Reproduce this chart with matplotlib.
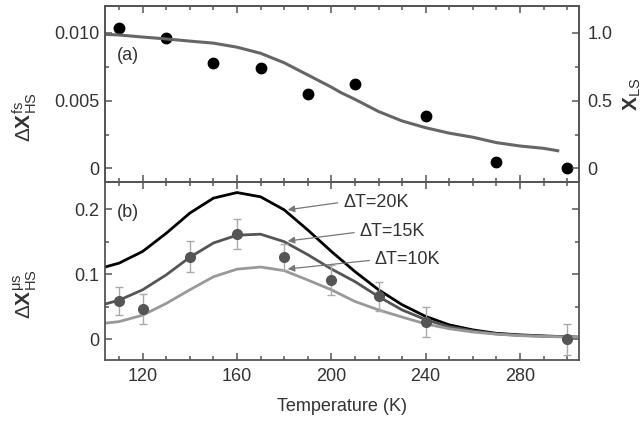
import numpy as np
import matplotlib
matplotlib.use("Agg")
from matplotlib import pyplot as plt
from matplotlib.ticker import MultipleLocator, FixedFormatter, FixedLocator

plt.rcParams['font.family'] = ['Liberation Sans', 'DejaVu Sans']
plt.rcParams['mathtext.fontset'] = 'custom'
plt.rcParams['mathtext.rm'] = 'Liberation Sans'
plt.rcParams['mathtext.bf'] = 'Liberation Sans:bold'
plt.rcParams['mathtext.it'] = 'Liberation Sans:italic'

# Panel (a): fs data points and X_LS curve
T_fs = [110, 130, 150, 170, 190, 210, 240, 270, 300]
dx_fs = [0.0104, 0.0096, 0.0078, 0.0074, 0.0055, 0.0062, 0.0039, 0.0005, 0.0]

T_ls = [104, 110, 120, 130, 140, 150, 160, 170, 180, 190, 200, 204,
        210, 220, 230, 240, 250, 260, 270, 280, 290, 296]
x_ls = [0.99, 0.985, 0.97, 0.956, 0.94, 0.925, 0.895, 0.85, 0.78, 0.69, 0.60, 0.56,
        0.51, 0.42, 0.35, 0.30, 0.26, 0.23, 0.19, 0.165, 0.148, 0.13]

# Panel (b): mus data points with error bars
T_us = [110, 120, 140, 160, 180, 200, 220, 240, 300]
dx_us = [0.059, 0.047, 0.127, 0.162, 0.127, 0.091, 0.066, 0.027, 0.0]
err_us = [0.022, 0.023, 0.024, 0.023, 0.020, 0.023, 0.022, 0.023, 0.024]

# model curves for dT = 20, 15, 10 K
T_m = [104, 110, 120, 130, 140, 150, 160, 170, 180, 190, 200,
       210, 220, 230, 240, 250, 260, 270, 280, 290, 305]
dT20 = [0.111, 0.117, 0.135, 0.163, 0.194, 0.217, 0.2256, 0.219, 0.199, 0.168, 0.135,
        0.104, 0.076, 0.053, 0.035, 0.022, 0.0143, 0.009, 0.0066, 0.005, 0.003]
dT15 = [0.054, 0.060, 0.076, 0.099, 0.126, 0.148, 0.160, 0.1615, 0.150, 0.130, 0.108,
        0.0886, 0.0655, 0.045, 0.030, 0.019, 0.0128, 0.008, 0.0058, 0.0045, 0.003]
dT10 = [0.0246, 0.027, 0.037, 0.055, 0.076, 0.096, 0.1077, 0.111, 0.1055, 0.091, 0.076,
        0.058, 0.045, 0.034, 0.0235, 0.016, 0.011, 0.0077, 0.0055, 0.0042, 0.003]
labels_b = ['ΔT=20K', 'ΔT=15K', 'ΔT=10K']

spine_c = '#555555'
text_c = '#333333'
fs = 13

fig = plt.figure(figsize=(6.44, 4.22), dpi=100)
ax_a = fig.add_axes([0.163, 0.569, 0.736, 0.417])
ax_b = fig.add_axes([0.163, 0.147, 0.736, 0.422], sharex=ax_a)
ax_r = ax_a.twinx()


def style(ax):
    for s in ax.spines.values():
        s.set_color(spine_c)
        s.set_linewidth(1.3)
    ax.tick_params(which='both', direction='in', colors=spine_c, labelcolor=text_c,
                   labelsize=fs, width=1.1)
    ax.tick_params(which='major', length=5)
    ax.tick_params(which='minor', length=3)


# panel a
ax_a.plot(T_fs, dx_fs, 'o', color='black', ms=7.5, zorder=3)
ax_r.plot(T_ls, x_ls, '-', color='#666666', lw=2.2, solid_joinstyle='round')
ax_a.set_ylim(-0.001, 0.012)
ax_r.set_ylim(-0.1, 1.2)
ax_a.yaxis.set_major_locator(FixedLocator([0, 0.005, 0.010]))
ax_a.yaxis.set_major_formatter(FixedFormatter(['0', '0.005', '0.010']))
ax_a.yaxis.set_minor_locator(MultipleLocator(0.0025))
ax_r.yaxis.set_major_locator(FixedLocator([0, 0.5, 1.0]))
ax_r.yaxis.set_major_formatter(FixedFormatter(['0', '0.5', '1.0']))
ax_r.yaxis.set_minor_locator(MultipleLocator(0.25))
for ax in (ax_a, ax_r):
    style(ax)
ax_a.tick_params(which='both', top=True, bottom=True, labelbottom=False, right=False)
ax_a.tick_params(axis='y', pad=4)
ax_r.tick_params(axis='y', pad=6)
ax_a.set_ylabel(r'$\Delta\mathbf{X}^{\mathrm{fs}}_{\mathrm{HS}}$', fontsize=15, color=text_c)
ax_a.yaxis.set_label_coords(-0.14, 0.37)
ax_r.set_ylabel(r'$\mathbf{X}_{\mathrm{LS}}$', fontsize=15, color=text_c)
ax_r.yaxis.set_label_coords(1.09, 0.5)
ax_a.text(0.025, 0.72, '(a)', transform=ax_a.transAxes, fontsize=fs, color=text_c,
          va='center', ha='left')

# panel b
for vals, col in zip([dT20, dT15, dT10], ['black', '#555555', '#999999']):
    ax_b.plot(T_m, vals, '-', color=col, lw=2.0, solid_joinstyle='round')
ax_b.errorbar(T_us, dx_us, yerr=err_us, fmt='o', color='#555555', ms=7,
              ecolor='#aaaaaa', elinewidth=1, capsize=3, capthick=1, zorder=3)
ax_b.set_ylim(-0.032, 0.242)
ax_b.yaxis.set_major_locator(FixedLocator([0, 0.1, 0.2]))
ax_b.yaxis.set_major_formatter(FixedFormatter(['0', '0.1', '0.2']))
ax_b.yaxis.set_minor_locator(MultipleLocator(0.05))
style(ax_b)
ax_b.tick_params(which='both', top=True, right=True)
ax_b.tick_params(axis='y', pad=4)
ax_b.tick_params(axis='x', pad=6)
ax_b.set_ylabel(r'$\Delta\mathbf{X}^{\mathrm{\mu s}}_{\mathrm{HS}}$', fontsize=15, color=text_c)
ax_b.yaxis.set_label_coords(-0.14, 0.37)
ax_b.set_xlabel('Temperature (K)', fontsize=fs, color=text_c, labelpad=9)
ax_b.text(0.025, 0.83, '(b)', transform=ax_b.transAxes, fontsize=fs, color=text_c,
          va='center', ha='left')

ax_b.set_xlim(104, 305)
ax_b.xaxis.set_major_locator(MultipleLocator(40))
ax_b.xaxis.set_minor_locator(MultipleLocator(10))

# arrows with labels
text_pos = [(205, 0.211), (212, 0.165), (218.5, 0.122)]
tip_pos = [(181.5, 0.199), (181.5, 0.151), (181.5, 0.108)]
for lab, tp, hp in zip(labels_b, text_pos, tip_pos):
    ax_b.annotate(lab, xy=hp, xytext=tp, fontsize=fs, color=text_c,
                  ha='left', va='center',
                  arrowprops=dict(arrowstyle='-|>', color='#777777', lw=0.9,
                                  mutation_scale=10, shrinkA=2, shrinkB=0,
                                  relpos=(0, 0.5)))

fig.savefig('out.png', dpi=100)
